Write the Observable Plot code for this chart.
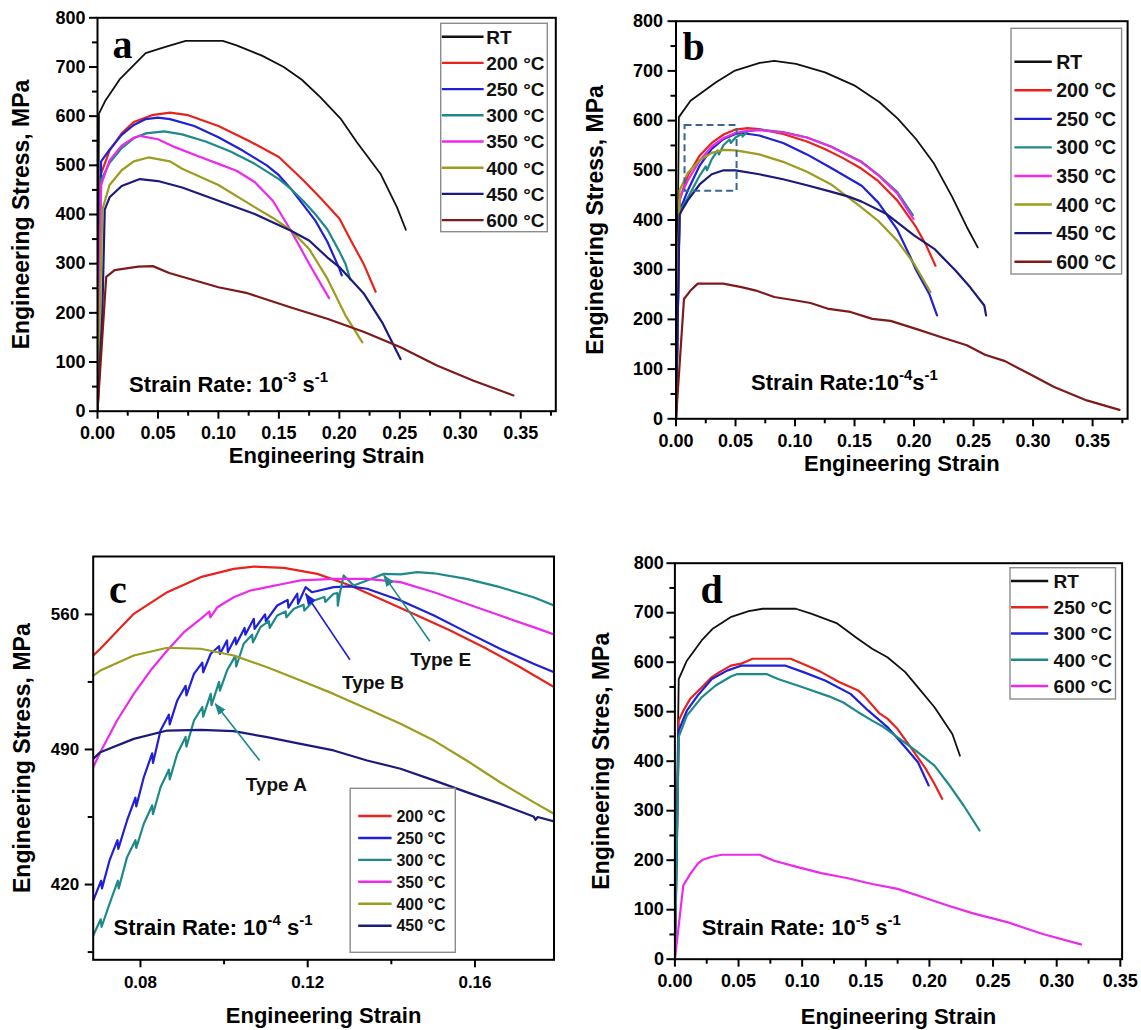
<!DOCTYPE html>
<html>
<head>
<meta charset="utf-8">
<script src="https://cdn.jsdelivr.net/npm/d3@7"></script>
<script src="https://cdn.jsdelivr.net/npm/@observablehq/plot@0.6"></script>
<style>
html,body{margin:0;padding:0;background:#fff;}
#root{position:relative;width:1141px;height:1030px;overflow:hidden;background:#fff;}
.panel{position:absolute;}
.panel svg{overflow:visible;}
</style>
</head>
<body>
<div id="root"></div>
<script>
// ---------------- DATA ----------------
// Panel a: strain rate 1e-3 s^-1   [engineering strain, engineering stress (MPa)]
const tempsAB = ["RT", "200 °C", "250 °C", "300 °C", "350 °C", "400 °C", "450 °C", "600 °C"];
const aRT  = [[0,0],[0.0012,605],[0.0066,632],[0.0187,676],[0.0398,728],[0.0548,740],[0.0729,753],[0.1036,753],[0.115,744],[0.136,723],[0.154,700],[0.169,674],[0.184,639],[0.201,595],[0.2145,547],[0.234,483],[0.2476,415],[0.255,369]];
const a200 = [[0,0],[0.0025,480],[0.01,530],[0.02,565],[0.03,588],[0.045,602],[0.06,607],[0.075,602],[0.10,580],[0.125,550],[0.15,517],[0.17,470],[0.185,432],[0.20,392],[0.21,345],[0.22,300],[0.23,243]];
const a250 = [[0,0],[0.003,508],[0.01,532],[0.02,562],[0.03,582],[0.04,594],[0.05,597],[0.06,594],[0.08,580],[0.10,557],[0.12,530],[0.14,500],[0.15,480],[0.16,452],[0.17,420],[0.18,388],[0.19,345],[0.20,290],[0.202,276]];
const a300 = [[0,0],[0.003,470],[0.01,505],[0.02,535],[0.03,555],[0.04,565],[0.055,569],[0.07,563],[0.09,548],[0.11,528],[0.13,503],[0.15,472],[0.16,452],[0.17,428],[0.18,401],[0.19,370],[0.20,325],[0.205,300],[0.209,268]];
const a350 = [[0,0],[0.003,460],[0.01,510],[0.02,540],[0.03,556],[0.035,560],[0.05,553],[0.064,537],[0.085,517],[0.10,503],[0.115,489],[0.13,466],[0.145,428],[0.16,367],[0.175,300],[0.1915,230]];
const a400 = [[0,0],[0.004,410],[0.01,460],[0.02,490],[0.03,508],[0.042,516],[0.06,508],[0.07,493],[0.10,460],[0.13,415],[0.145,393],[0.16,368],[0.175,330],[0.19,270],[0.205,195],[0.219,140]];
const a450 = [[0,0],[0.004,200],[0.006,410],[0.01,435],[0.02,458],[0.035,472],[0.05,468],[0.07,455],[0.10,428],[0.13,401],[0.16,367],[0.175,347],[0.19,313],[0.20,293],[0.22,240],[0.236,178],[0.2506,106]];
const a600 = [[0,0],[0.0072,273],[0.0142,287],[0.0337,294],[0.0458,295],[0.0593,281],[0.10,252],[0.124,240],[0.16,211],[0.19,188],[0.2205,161],[0.2506,130],[0.2807,93],[0.311,62],[0.344,32]];

// Panel b: strain rate 1e-4 s^-1
const bRT  = [[0,0],[0.0024,607],[0.0122,640],[0.0336,677],[0.0489,700],[0.0703,716],[0.0825,720],[0.1008,714],[0.1252,697],[0.1497,671],[0.171,637],[0.1863,604],[0.2016,563],[0.2169,513],[0.2321,446],[0.2443,386],[0.2535,345]];
const b200 = [[0,0],[0.003,440],[0.005,455],[0.01,490],[0.02,530],[0.03,555],[0.04,572],[0.05,582],[0.06,585],[0.07,583],[0.09,573],[0.11,558],[0.125,543],[0.14,525],[0.156,503],[0.17,478],[0.186,439],[0.2016,386],[0.21,350],[0.218,308]];
const b250 = [[0,0],[0.003,420],[0.005,430],[0.01,460],[0.02,510],[0.03,543],[0.04,563],[0.05,573],[0.055,575],[0.07,570],[0.09,555],[0.11,532],[0.13,505],[0.156,469],[0.17,435],[0.186,380],[0.197,325],[0.2016,300],[0.213,250],[0.2193,208]];
const b300 = [[0,0],[0.003,420],[0.005,425],[0.01,445],[0.02,490],[0.025,508],[0.026,500],[0.03,522],[0.035,540],[0.036,532],[0.04,551],[0.045,562],[0.046,555],[0.05,566],[0.055,573],[0.056,568],[0.06,578],[0.07,582],[0.09,577],[0.11,566],[0.13,548],[0.156,517],[0.17,491],[0.186,456],[0.199,410]];
const b350 = [[0,0],[0.003,440],[0.005,455],[0.01,480],[0.02,520],[0.03,548],[0.04,565],[0.05,575],[0.06,580],[0.07,581],[0.09,576],[0.11,566],[0.13,548],[0.156,516],[0.17,490],[0.186,453],[0.1995,402]];
const b400 = [[0,0],[0.003,460],[0.01,495],[0.02,520],[0.03,535],[0.04,541],[0.05,540],[0.07,532],[0.09,517],[0.11,497],[0.13,472],[0.145,445],[0.156,425],[0.17,398],[0.186,358],[0.20,312],[0.2138,255]];
const b450 = [[0,0],[0.003,410],[0.005,420],[0.01,440],[0.02,472],[0.03,492],[0.04,500],[0.05,500],[0.07,492],[0.09,482],[0.11,470],[0.13,457],[0.145,447],[0.156,437],[0.177,412],[0.20,369],[0.217,342],[0.235,298],[0.247,265],[0.259,228],[0.2605,208]];
const b600 = [[0,0],[0.0067,241],[0.0122,258],[0.0183,272],[0.0397,272],[0.055,265],[0.0672,258],[0.0825,245],[0.1008,238],[0.113,233],[0.1283,221],[0.1466,215],[0.1649,201],[0.1802,197],[0.2016,181],[0.223,164],[0.2443,148],[0.2596,129],[0.2764,116],[0.2963,91],[0.3177,64],[0.3451,37],[0.3726,18]];
const zoomBoxStrain = [0.0076, 0.0513];
const zoomBoxStress = [458, 590];

// Panel c: detail of panel b (strain rate 1e-4 s^-1)
const tempsC = ["200 °C", "250 °C", "300 °C", "350 °C", "400 °C", "450 °C"];
const c200 = [[0.0687,538.7],[0.0704,542.2],[0.0784,560.3],[0.0864,571.5],[0.0944,579.3],[0.1023,583.6],[0.1071,584.8],[0.1143,584.1],[0.1223,581],[0.1302,575],[0.1382,567.2],[0.1462,559.4],[0.1541,551.7],[0.1621,543],[0.1701,533.5],[0.1789,522.3]];
const c250 = [[0.0687,411.7],[0.0706,422],[0.0708,418],[0.0726,432.5],[0.0745,443],[0.0747,438.5],[0.0768,453.2],[0.0788,465],[0.079,460.5],[0.0808,475.6],[0.0828,488],[0.083,483],[0.0848,499.8],[0.0868,508],[0.087,503],[0.0888,515.4],[0.0908,523],[0.091,518],[0.0928,529.2],[0.0948,535],[0.095,530],[0.0968,539.6],[0.0988,543.5],[0.099,539.5],[0.1007,546.5],[0.1009,540.5],[0.1027,548],[0.1029,544.5],[0.1049,553],[0.1051,549.5],[0.1071,557.7],[0.1073,552.5],[0.1098,560],[0.11,556.5],[0.1127,564.6],[0.1152,567.5],[0.1154,563.5],[0.1175,570.7],[0.1177,565.5],[0.1195,574.1],[0.121,571.5],[0.1262,574.1],[0.1302,574.5],[0.1342,573.3],[0.1422,567.2],[0.1502,559.4],[0.158,550.8],[0.166,542.2],[0.174,534.4],[0.1789,530]];
const c300 = [[0.0687,393.6],[0.0705,402],[0.0707,398],[0.0726,410],[0.0746,422],[0.0748,418],[0.0768,434.2],[0.0788,443],[0.079,439],[0.0808,451.5],[0.0828,461],[0.083,456.5],[0.0848,470.4],[0.0868,479.5],[0.087,474.5],[0.0888,487.8],[0.0908,496.5],[0.091,491.5],[0.0928,505],[0.0948,512],[0.095,507],[0.0968,518.8],[0.097,513],[0.0988,525],[0.099,520.5],[0.1007,530.9],[0.1027,538.5],[0.1029,533],[0.1047,544.8],[0.1067,549.5],[0.1069,545.5],[0.1087,553.4],[0.1107,556.5],[0.1109,553],[0.1127,559.4],[0.1147,561.5],[0.1149,558.5],[0.1167,562.9],[0.119,565],[0.1192,562],[0.1215,567.2],[0.124,569],[0.1242,566.5],[0.1262,570.7],[0.1271,571],[0.1272,564.5],[0.1276,570],[0.1286,580.2],[0.131,575],[0.1342,577.6],[0.1382,581],[0.1422,580.7],[0.1462,581.9],[0.1502,581.3],[0.158,578.4],[0.166,574.1],[0.174,568.9],[0.1789,564.6]];
const c350 = [[0.0687,480.8],[0.0704,488.6],[0.0744,505],[0.0784,518.8],[0.0824,530.9],[0.0864,541.3],[0.0904,550.8],[0.0944,557.7],[0.0965,561.5],[0.0967,558.5],[0.0984,563.7],[0.1023,568.9],[0.1063,572.4],[0.1103,574.1],[0.1143,575.9],[0.1183,577.6],[0.1262,578.4],[0.1342,578.4],[0.1422,576.7],[0.1502,571.5],[0.158,565.5],[0.166,559.4],[0.174,553.4],[0.1789,549.6]];
const c400 = [[0.0687,528.3],[0.0704,530.9],[0.0784,538.7],[0.0864,542.7],[0.0944,542.2],[0.1023,538.7],[0.1103,532.6],[0.1183,525.7],[0.1262,518.8],[0.1342,511.1],[0.1422,503.3],[0.1502,494.6],[0.158,484.3],[0.166,473],[0.174,462.7],[0.1789,456.7]];
const c450 = [[0.0687,485.1],[0.0704,488.6],[0.0784,495.5],[0.0864,499.8],[0.0944,500.2],[0.1023,499.5],[0.1103,496.4],[0.1183,492.9],[0.1262,489.5],[0.1342,484.3],[0.1422,480],[0.1502,474],[0.158,467.9],[0.166,461.8],[0.174,455.3],[0.1745,453.5],[0.175,455],[0.1789,452.7]];
const annoLabels = ["Type A", "Type B", "Type E"];
const annoTextStrain = [0.1125, 0.1356, 0.1518];
const annoTextStress = [468.7, 521.4, 533.5];
const annoTailStrain = [0.1085, 0.1301, 0.1492];
const annoTailStress = [484.3, 536.5, 546.1];
const annoHeadStrain = [0.0979, 0.1195, 0.1382];
const annoHeadStress = [513.7, 570.7, 580.2];

// Panel d: strain rate 1e-5 s^-1
const tempsD = ["RT", "250 °C", "300 °C", "400 °C", "600 °C"];
const dRT  = [[0,0],[0.003,566],[0.0094,603],[0.021,644],[0.0294,667],[0.0437,691],[0.058,703],[0.069,708],[0.095,708],[0.107,698],[0.127,679],[0.144,647],[0.155,627],[0.167,610],[0.181,580],[0.192,546],[0.204,509],[0.218,455],[0.224,411]];
const d250 = [[0,0],[0.003,482],[0.0066,502],[0.012,526],[0.021,549],[0.029,570],[0.035,580],[0.044,593],[0.052,597],[0.061,607],[0.091,607],[0.104,593],[0.115,580],[0.129,560],[0.144,543],[0.149,531],[0.161,496],[0.167,486],[0.175,465],[0.187,422],[0.197,385],[0.204,354],[0.21,324]];
const d300 = [[0,0],[0.003,462],[0.0094,502],[0.018,533],[0.029,566],[0.041,583],[0.052,593],[0.087,593],[0.101,580],[0.118,563],[0.138,536],[0.152,502],[0.167,469],[0.181,428],[0.191,398],[0.1994,351]];
const d400 = [[0,0],[0.003,449],[0.0094,492],[0.021,529],[0.032,553],[0.044,571],[0.049,576],[0.072,576],[0.081,566],[0.101,549],[0.121,531],[0.132,519],[0.144,499],[0.155,482],[0.164,469],[0.175,448],[0.189,422],[0.204,391],[0.215,354],[0.227,310],[0.2394,260]];
const d600 = [[0,0],[0.0066,149],[0.012,172],[0.018,193],[0.022,201],[0.029,207],[0.037,211],[0.0666,211],[0.078,199],[0.095,187],[0.115,174],[0.135,164],[0.155,152],[0.175,142],[0.195,125],[0.215,108],[0.235,92],[0.261,75],[0.289,51],[0.319,30]];

// Axis ticks
const strainTicks = [0, 0.05, 0.10, 0.15, 0.20, 0.25, 0.30, 0.35];
const strainMinor = [0.025, 0.075, 0.125, 0.175, 0.225, 0.275, 0.325, 0.375];
const stressTicks = [0, 100, 200, 300, 400, 500, 600, 700, 800];
const stressMinor = [50, 150, 250, 350, 450, 550, 650, 750];
const strainTicksC = [0.08, 0.12, 0.16];
const strainMinorC = [0.10, 0.14];
const stressTicksC = [420, 490, 560];
const stressMinorC = [385, 455, 525];

// ---------------- STYLE ----------------
const SANS = '"Liberation Sans", Arial, Helvetica, sans-serif';
const SERIF = '"Liberation Serif", "Times New Roman", serif';
const C = {k: "#111111", r: "#e8231c", b: "#2020d6", t: "#1f898a", m: "#ec2aec", o: "#9c9c1e", n: "#1b1b7c", br: "#7e1a1a"};
const colorsAB = [C.k, C.r, C.b, C.t, C.m, C.o, C.n, C.br];
const colorsC = [C.r, C.b, C.t, C.m, C.o, C.n];
const colorsD = [C.k, C.r, C.b, C.t, C.m];

const root = document.getElementById("root");

function filledHead(color) {
  const m = d3.create("svg:marker")
    .attr("viewBox", "0 -5 12 10").attr("markerWidth", 12).attr("markerHeight", 10)
    .attr("markerUnits", "userSpaceOnUse").attr("refX", 11).attr("refY", 0).attr("orient", "auto")
    .attr("fill", color).attr("stroke", "none");
  m.append("path").attr("d", "M0,-4.5L12,0L0,4.5Z");
  return m.node();
}

function panel(cfg) {
  const marks = [];
  cfg.series.forEach((s, i) => {
    marks.push(Plot.line(s, {x: d => d[0], y: d => d[1], stroke: cfg.colors[i],
      strokeWidth: cfg.colors[i] === C.k ? 1.8 : 2.2, strokeLinejoin: "round", clip: true}));
  });
  cfg.extra && marks.push(...cfg.extra);
  marks.push(
    // major ticks with labels, minor ticks without
    Plot.axisX({anchor: "bottom", ticks: cfg.xt, tickSize: 8, tickPadding: cfg.xPad, tickFormat: d3.format(".2f"), fontSize: cfg.tickFont, strokeWidth: 2, label: null}),
    Plot.axisX({anchor: "bottom", ticks: cfg.xm, tickSize: 5, tickFormat: () => "", strokeWidth: 2, label: null}),
    Plot.axisY({anchor: "left", ticks: cfg.yt, tickSize: 8, tickPadding: cfg.yPad, tickFormat: d3.format("d"), fontSize: cfg.tickFont, strokeWidth: 2, label: null}),
    Plot.axisY({anchor: "left", ticks: cfg.ym, tickSize: 5, tickFormat: () => "", strokeWidth: 2, label: null}),
    // axis titles
    Plot.axisX({anchor: "bottom", ticks: [], tickSize: 0, label: "Engineering Strain", labelAnchor: "center", labelArrow: "none", labelOffset: cfg.xLabOff, fontSize: 22}),
    Plot.axisY({anchor: "left", ticks: [], tickSize: 0, label: cfg.yLabel, labelAnchor: "center", labelArrow: "none", labelOffset: cfg.yLabOff, fontSize: 23}),
    Plot.frame({stroke: "#000", strokeWidth: 2})
  );
  const svg = Plot.plot({
    width: cfg.w, height: cfg.h,
    marginLeft: cfg.ml, marginRight: cfg.mr, marginTop: cfg.mt, marginBottom: cfg.mb,
    x: {domain: cfg.xd},
    y: {domain: cfg.yd},
    style: {fontFamily: SANS, fontWeight: "bold", color: "#000", background: "transparent", overflow: "visible"},
    marks
  });
  const div = document.createElement("div");
  div.className = "panel";
  div.style.left = cfg.left + "px";
  div.style.top = cfg.top + "px";
  div.appendChild(svg);
  root.appendChild(div);
}

// Panel a
panel({left: 0, top: 0, w: 570, h: 490, ml: 97, mr: 14.7, mt: 17.3, mb: 79.3,
  xd: [0, 0.379], yd: [0, 800], xt: strainTicks, xm: strainMinor, yt: stressTicks, ym: stressMinor,
  xPad: 7, yPad: 4, tickFont: 18, xLabOff: 51.5, yLabOff: 85, yLabel: "Engineering Stress, MPa",
  series: [aRT, a200, a250, a300, a350, a400, a450, a600], colors: colorsAB});

// Panel b
panel({left: 570, top: 0, w: 571, h: 490, ml: 105.5, mr: 13.9, mt: 20.7, mb: 71.7,
  xd: [0, 0.3794], yd: [0, 800], xt: strainTicks, xm: strainMinor, yt: stressTicks, ym: stressMinor,
  xPad: 7, yPad: 5, tickFont: 18, xLabOff: 52.5, yLabOff: 89, yLabel: "Engineering Stress, MPa",
  series: [bRT, b200, b250, b300, b350, b400, b450, b600], colors: colorsAB,
  extra: [Plot.rect([0], {x1: () => zoomBoxStrain[0], x2: () => zoomBoxStrain[1], y1: () => zoomBoxStress[0], y2: () => zoomBoxStress[1],
    fill: "none", stroke: "#3a6591", strokeWidth: 2, strokeDasharray: "7,4"})]});

// Panel c
const annoIdx = annoLabels.map((_, i) => i);
const annoColors = [C.t, C.b, C.t];
panel({left: 0, top: 520, w: 570, h: 510, ml: 92.7, mr: 16.5, mt: 36, mb: 70.7,
  xd: [0.0687, 0.1789], yd: [381, 590], xt: strainTicksC, xm: strainMinorC, yt: stressTicksC, ym: stressMinorC,
  xPad: 8, yPad: 6, tickFont: 17, xLabOff: 63, yLabOff: 80, yLabel: "Engineering Stress, MPa",
  series: [c200, c250, c300, c350, c400, c450], colors: colorsC,
  extra: [
    Plot.link(annoIdx, {x1: i => annoTailStrain[i], y1: i => annoTailStress[i], x2: i => annoHeadStrain[i], y2: i => annoHeadStress[i],
      stroke: i => annoColors[i], strokeWidth: 1.6, markerEnd: filledHead}),
    Plot.text(annoIdx, {x: i => annoTextStrain[i], y: i => annoTextStress[i], text: i => annoLabels[i],
      fontSize: 19, fontWeight: "bold", fill: "#111", lineAnchor: "bottom", textAnchor: "middle"})
  ]});

// Panel d
panel({left: 570, top: 520, w: 571, h: 510, ml: 104.4, mr: 19.4, mt: 42.7, mb: 71.3,
  xd: [0, 0.3514], yd: [0, 800], xt: strainTicks, xm: strainMinor.filter(v => v < 0.35), yt: stressTicks, ym: stressMinor,
  xPad: 7, yPad: 3, tickFont: 18, xLabOff: 65, yLabOff: 82.6, yLabel: "Engineering Stres, MPa",
  series: [dRT, d250, d300, d400, d600], colors: colorsD});

// ---------------- OVERLAY: panel letters, strain-rate notes, legends ----------------
const ov = d3.select(root).append("svg")
  .attr("width", 1141).attr("height", 1030)
  .style("position", "absolute").style("left", "0px").style("top", "0px")
  .style("pointer-events", "none")
  .attr("font-family", SANS).attr("font-weight", "bold");

[["a", 112.5, 58.3], ["b", 682.5, 60], ["c", 109, 603.3], ["d", 700.5, 603.3]].forEach(([t, x, y]) => {
  ov.append("text").attr("x", x).attr("y", y).attr("font-family", SERIF).attr("font-size", 40).attr("font-weight", "bold").text(t);
});

function rate(x, y, parts) {
  const t = ov.append("text").attr("x", x).attr("y", y).attr("font-size", 22);
  let up = false;
  parts.forEach(p => {
    const s = t.append("tspan").text(p[0]);
    if (p[1]) { s.attr("font-size", 15).attr("dy", up ? 0 : -10); up = true; }
    else { s.attr("dy", up ? 10 : 0); up = false; }
  });
}
rate(129, 391.7, [["Strain Rate: 10"], ["-3", 1], [" s"], ["-1", 1]]);
rate(751, 390, [["Strain Rate:10"], ["-4", 1], ["s"], ["-1", 1]]);
rate(113.5, 935, [["Strain Rate: 10"], ["-4", 1], [" s"], ["-1", 1]]);
rate(701.7, 935, [["Strain Rate: 10"], ["-5", 1], [" s"], ["-1", 1]]);

function legend(box, labels, colors, o) {
  const g = ov.append("g");
  g.append("rect").attr("x", box[0]).attr("y", box[1]).attr("width", box[2]).attr("height", box[3])
    .attr("fill", "#fff").attr("stroke", "#8c8c8c").attr("stroke-width", 1.4);
  labels.forEach((lab, i) => {
    const y = o.y0 + i * o.step;
    g.append("line").attr("x1", o.l0).attr("x2", o.l1).attr("y1", y).attr("y2", y)
      .attr("stroke", colors[i]).attr("stroke-width", 2.4);
    g.append("text").attr("x", o.tx).attr("y", y + o.fs * 0.36).attr("font-size", o.fs).attr("fill", "#111").text(lab);
  });
}
legend([440.7, 23.3, 106.6, 208.4], tempsAB, colorsAB, {y0: 36.7, step: 26.2, l0: 441.8, l1: 483.6, tx: 486.2, fs: 19});
legend([1011, 28.3, 110.6, 245.7], tempsAB, colorsAB, {y0: 61.7, step: 28.57, l0: 1014.4, l1: 1051.8, tx: 1056.2, fs: 19.5});
legend([350.2, 788.3, 105.1, 164], tempsC, colorsC, {y0: 816, step: 21.94, l0: 358.2, l1: 391.6, tx: 396.4, fs: 16});
legend([1010, 567.7, 105.5, 131.3], tempsD, colorsD, {y0: 581, step: 26.25, l0: 1011, l1: 1048.2, tx: 1053.6, fs: 19});
</script>
</body>
</html>
